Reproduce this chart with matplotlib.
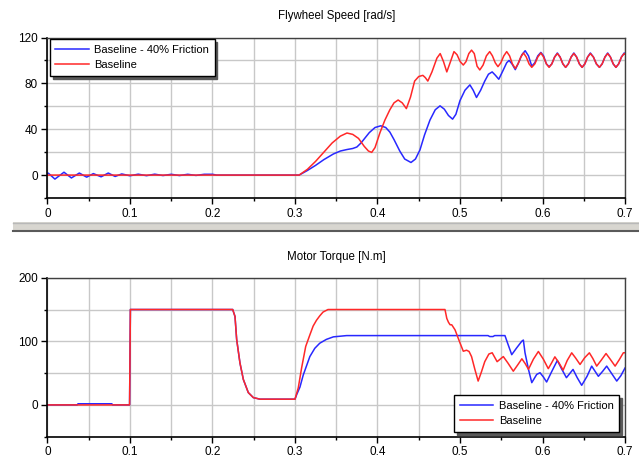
import numpy as np
import matplotlib
matplotlib.use("Agg")
import matplotlib.pyplot as plt
from matplotlib.patches import Rectangle
from matplotlib.lines import Line2D

plt.rcParams['font.family'] = ['Liberation Sans', 'DejaVu Sans']
plt.rcParams['font.size'] = 8

# ---- Flywheel speed [rad/s] ----
t_spd_fric = [0, 0.001, 0.009, 0.020, 0.029, 0.0386, 0.0475, 0.0556, 0.065, 0.0737, 0.082, 0.090,
              0.100, 0.110, 0.120, 0.130, 0.140, 0.150, 0.160, 0.170, 0.180, 0.190, 0.200, 0.205,
              0.305, 0.315, 0.325, 0.335, 0.3465, 0.355, 0.363, 0.370, 0.375, 0.380, 0.385, 0.390,
              0.397, 0.404, 0.410, 0.415, 0.420, 0.427, 0.433, 0.4406, 0.446, 0.4515, 0.457, 0.4636,
              0.470, 0.4758, 0.481, 0.486, 0.491, 0.495, 0.500, 0.506, 0.512, 0.516, 0.520, 0.525,
              0.530, 0.5345, 0.539, 0.543, 0.547, 0.552, 0.5566, 0.5595, 0.563, 0.567, 0.571, 0.575,
              0.579, 0.583, 0.587, 0.5907, 0.5943, 0.598, 0.6013, 0.6047, 0.608, 0.6113, 0.6147, 0.618,
              0.6213, 0.6247, 0.628, 0.6313, 0.6347, 0.638, 0.6413, 0.6447, 0.648, 0.6513, 0.6547, 0.658,
              0.6617, 0.6653, 0.669, 0.6723, 0.6757, 0.679, 0.6823, 0.6857, 0.689, 0.6923, 0.6957, 0.699, 0.700]
v_spd_fric = [1.5, 1.7, -3.5, 2.5, -2.5, 1.8, -1.8, 1.3, -1.5, 1.8, -1.2, 1.0,
              -0.6, 0.8, -0.5, 0.8, -0.4, 0.7, -0.4, 0.7, -0.3, 0.7, 0.7, 0,
              0, 4, 8.5, 13.5, 18.4, 21, 22.3, 23.2, 24.5, 28, 32.5, 37,
              41.5, 43, 41.5, 37.5, 31, 21, 14, 11, 14, 22, 35, 48,
              57, 60.4, 57.5, 52, 48.8, 53, 65, 74, 78.7, 74, 67.7, 74,
              82, 88, 90, 87, 83.6, 91, 98, 100, 97, 92, 98, 105,
              108.5, 104, 95, 98, 104, 107, 104, 97, 94.5, 97, 103, 106.5,
              103, 97, 94, 97, 103, 106.5, 103, 97, 94, 97, 103, 106.5,
              103, 97, 94, 97, 103, 106.5, 103, 97, 94, 97, 103, 106.5, 106]

t_spd_base = [0, 0.305, 0.315, 0.325, 0.335, 0.345, 0.355, 0.363, 0.370, 0.377, 0.384, 0.389,
              0.393, 0.397, 0.403, 0.409, 0.415, 0.420, 0.425, 0.430, 0.435, 0.440, 0.445, 0.450,
              0.455, 0.458, 0.461, 0.466, 0.472, 0.476, 0.480, 0.484, 0.488, 0.4927, 0.4964, 0.5002,
              0.504, 0.5073, 0.5107, 0.514, 0.5173, 0.5207, 0.524, 0.528, 0.532, 0.536, 0.5393, 0.5427,
              0.546, 0.5495, 0.5531, 0.5566, 0.5601, 0.5635, 0.567, 0.5703, 0.5737, 0.577, 0.5803, 0.5837,
              0.587, 0.5907, 0.5943, 0.598, 0.6013, 0.6047, 0.608, 0.6113, 0.6147, 0.618, 0.6213, 0.6247,
              0.628, 0.6313, 0.6347, 0.638, 0.6413, 0.6447, 0.648, 0.6513, 0.6547, 0.658, 0.6617, 0.6653,
              0.669, 0.6723, 0.6757, 0.679, 0.6823, 0.6857, 0.689, 0.6923, 0.6957, 0.699, 0.700]
v_spd_base = [0, 0, 5, 12, 20, 28, 34, 36.7, 35.5, 32, 25, 21,
              19.8, 24, 37, 48, 57, 63, 65.5, 63, 58, 68, 82, 86,
              87, 85, 82, 90, 102, 106, 99, 90, 98, 107.7, 105, 99,
              96, 99, 106, 109, 106, 95, 91.7, 96, 104, 107.7, 104, 98,
              94.6, 98, 104, 107.7, 104, 97, 93, 97, 103, 106.5, 103, 97,
              94, 97, 103, 106.5, 103, 97, 94, 97, 103, 106, 103, 97,
              94, 97, 103, 106, 103, 97, 94, 97, 103, 106, 103, 97,
              94, 97, 103, 106, 103, 97, 94, 97, 103, 106, 105.5]

# ---- Motor torque [N.m] ----
t_trq_fric = [0, 0.036, 0.037, 0.078, 0.079, 0.0995, 0.1, 0.1005, 0.2245, 0.2273, 0.2293, 0.2333,
              0.2374, 0.2434, 0.2495, 0.2576, 0.300, 0.302, 0.306, 0.310, 0.318, 0.324, 0.330, 0.338,
              0.3465, 0.3626, 0.534, 0.536, 0.540, 0.542, 0.5545, 0.558, 0.5627, 0.5687, 0.5748, 0.5768,
              0.5788, 0.583, 0.587, 0.593, 0.597, 0.601, 0.605, 0.611, 0.618, 0.623, 0.629, 0.637,
              0.642, 0.6475, 0.654, 0.6596, 0.6677, 0.673, 0.6778, 0.684, 0.690, 0.695, 0.700]
v_trq_fric = [0, 0, 1.8, 1.8, 0, 0, 75, 150, 150, 139, 103, 66,
              40, 19.4, 11.5, 9, 9, 16, 28, 47, 76, 89, 97, 103,
              107, 109, 109, 107.5, 107.5, 109, 109, 96, 79, 89.7, 100, 102,
              82, 55.8, 35, 48, 50.6, 44, 36, 52, 70, 57, 42.8, 55.8,
              43, 30.8, 45, 61, 45, 53, 61, 49, 37.5, 46, 58]

t_trq_base = [0, 0.0995, 0.1, 0.1005, 0.2245, 0.2273, 0.2293, 0.2333, 0.2374, 0.2434, 0.2495, 0.2576,
              0.300, 0.304, 0.308, 0.313, 0.318, 0.322, 0.326, 0.330, 0.334, 0.340, 0.4818, 0.484,
              0.486, 0.488, 0.490, 0.494, 0.500, 0.504, 0.508, 0.511, 0.514, 0.518, 0.522, 0.526,
              0.530, 0.535, 0.539, 0.545, 0.5525, 0.558, 0.5646, 0.570, 0.575, 0.579, 0.583, 0.589,
              0.595, 0.601, 0.607, 0.611, 0.615, 0.620, 0.625, 0.630, 0.6354, 0.640, 0.6455, 0.651,
              0.6568, 0.661, 0.6657, 0.671, 0.677, 0.682, 0.688, 0.693, 0.698, 0.700]
v_trq_base = [0, 0, 75, 150, 150, 139, 103, 66, 40, 19.4, 11.5, 9,
              9, 27, 58, 92, 110, 124, 133, 140, 146, 150, 150, 136,
              130, 126, 126, 118, 97.5, 84.4, 86, 84, 76, 56, 37.5, 52,
              68, 80, 82, 68, 76, 66, 53, 63, 72.5, 65, 56, 72,
              84, 72, 57, 66, 75.6, 66, 54.7, 70, 81.9, 74, 63.6, 74,
              81.9, 73, 61, 70, 80.8, 72, 61, 71, 82, 82]

labels = ['Baseline - 40% Friction', 'Baseline']
colors = ['#2828ff', '#ff2828']

fig = plt.figure(figsize=(6.39, 4.57), dpi=100)
ax1 = fig.add_axes([0.0743, 0.5667, 0.9038, 0.3512])
ax2 = fig.add_axes([0.0743, 0.0444, 0.9038, 0.3479])

# window splitter between the two panels
fig.patches.append(Rectangle((13 / 639, 1 - 231 / 457), 1, 9 / 457, transform=fig.transFigure,
                             facecolor='#d8d6d0', edgecolor='none', zorder=0))
fig.lines.append(Line2D([13 / 639, 1], [1 - 222.5 / 457] * 2, transform=fig.transFigure,
                        color='#b8b8b8', lw=1))
fig.lines.append(Line2D([13 / 639, 1], [1 - 230.5 / 457] * 2, transform=fig.transFigure,
                        color='#5a5a5a', lw=1.5))


def style(ax, ylo, yhi, ymaj, ymin, title):
    ax.set_xlim(0, 0.7)
    ax.set_ylim(ylo, yhi)
    ax.set_xticks(np.arange(0, 0.71, 0.1))
    ax.set_xticks(np.arange(0.05, 0.7, 0.1), minor=True)
    ax.set_xticklabels(['0', '0.1', '0.2', '0.3', '0.4', '0.5', '0.6', '0.7'])
    ax.set_yticks(np.arange(ylo + (-ylo % ymaj), yhi + 1, ymaj))
    ax.set_yticks(np.arange(ylo, yhi + 1, ymin), minor=True)
    ax.grid(True, which='both', color='#c8c8c8', lw=1)
    ax.set_axisbelow(True)
    ax.tick_params(which='major', length=4, width=1, pad=3, labelsize=8.5)
    ax.tick_params(which='minor', length=2.5, width=1)
    for s in ['left', 'bottom']:
        ax.spines[s].set_color('black')
        ax.spines[s].set_linewidth(1.2)
    for s in ['top', 'right']:
        ax.spines[s].set_color('#404040')
        ax.spines[s].set_linewidth(1)
    ax.set_title(title, fontsize=8.3, pad=13)


legend_kw = dict(fontsize=8, fancybox=False, edgecolor='black', framealpha=1, handlelength=3,
                 labelspacing=0.5, borderpad=0.5, handletextpad=0.5, borderaxespad=0,
                 shadow={'color': '0.35', 'alpha': 1})

ax1.plot(t_spd_fric, v_spd_fric, color=colors[0], lw=1.1, label=labels[0])
ax1.plot(t_spd_base, v_spd_base, color=colors[1], lw=1.1, label=labels[1])
style(ax1, -20, 120, 40, 20, 'Flywheel Speed [rad/s]')
leg1 = ax1.legend(loc='upper left', bbox_to_anchor=(0.004, 0.99), **legend_kw)
leg1.get_frame().set_linewidth(1)

ax2.plot(t_trq_fric, v_trq_fric, color=colors[0], lw=1.1, label=labels[0])
ax2.plot(t_trq_base, v_trq_base, color=colors[1], lw=1.1, label=labels[1])
style(ax2, -50, 200, 100, 50, 'Motor Torque [N.m]')
leg2 = ax2.legend(loc='lower right', bbox_to_anchor=(0.99, 0.03), **legend_kw)
leg2.get_frame().set_linewidth(1)

fig.savefig('out.png', dpi=100)
